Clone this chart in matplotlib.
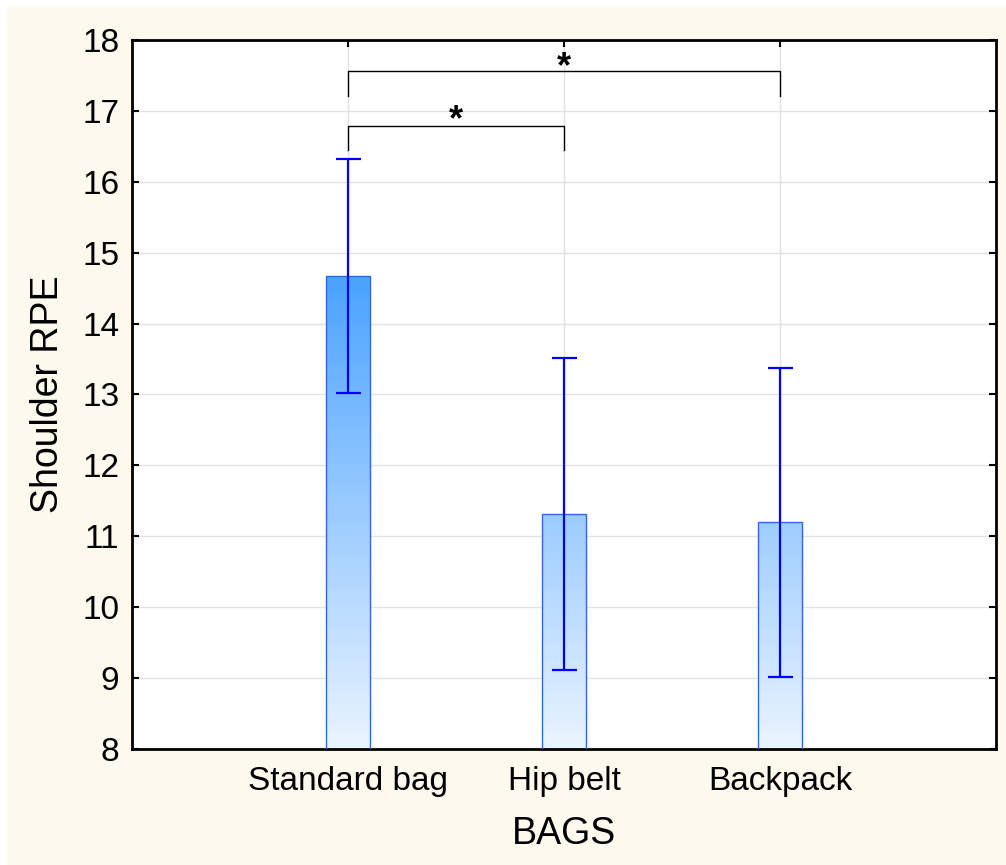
import numpy as np
import matplotlib
matplotlib.use("Agg")
import matplotlib.pyplot as plt
from matplotlib.colors import LinearSegmentedColormap
from matplotlib.patches import Rectangle

# Shoulder RPE by bag type: means with error bars
bags = ["Standard bag", "Hip belt", "Backpack"]
rpe_mean = [14.67, 11.31, 11.20]
rpe_err = [1.65, 2.20, 2.18]

# significance brackets: (from bag, to bag, bar height, leg bottom, star height)
brackets = [(0, 1, 16.79, 16.45, 16.86), (0, 2, 17.56, 17.21, 17.61)]
bracket_label = "*"

y_ticks = list(range(8, 19))

plt.rcParams["font.family"] = ["Liberation Sans", "DejaVu Sans"]

fig = plt.figure(figsize=(10.06, 8.65), dpi=100, facecolor="white")
fig.patches.append(Rectangle((7 / 1006, 0), 1, 1 - 7 / 865,
                             transform=fig.transFigure, facecolor="#fdf9ef",
                             edgecolor="none", zorder=-10))

ax = fig.add_axes([0.1312, 0.1341, 0.859, 0.8197])
ax.set_facecolor("white")

x = np.arange(1, len(bags) + 1)
bars = ax.bar(x, rpe_mean, width=0.2, color="none", edgecolor="#2a6ae0",
              linewidth=1.0, zorder=3)

# vertical colour fade, darker with height, clipped to each bar
cmap = LinearSegmentedColormap.from_list("fade", ["#eaf4ff", "#4aa3ff"])
grad = np.linspace(8, 18, 400).reshape(-1, 1)
for b in bars:
    im = ax.imshow(grad, extent=[0, 4, 8, 18], origin="lower", aspect="auto",
                   cmap=cmap, vmin=8, vmax=14.67, zorder=2)
    im.set_clip_path(b)

ax.errorbar(x, rpe_mean, yerr=rpe_err, fmt="none", ecolor="#0000ff",
            elinewidth=1.6, capsize=9, capthick=1.6, zorder=4)

for i, j, top, leg, star_y in brackets:
    xi, xj = x[i], x[j]
    ax.plot([xi, xi, xj, xj], [leg, top, top, leg], color="black",
            linewidth=1.0, zorder=5)
    ax.text((xi + xj) / 2, star_y, bracket_label, ha="center",
            va="center", fontsize=26, fontweight="bold", zorder=5)

ax.set_xlim(0, 4)
ax.set_ylim(8, 18)
ax.set_xticks(x)
ax.set_xticklabels(bags)
ax.set_yticks(y_ticks)
ax.grid(True, color="#e2e2e2", linewidth=1.0, zorder=0)
ax.set_axisbelow(True)
ax.tick_params(direction="in", length=5, width=1.5, top=True, right=True,
               labelsize=24, colors="black")
ax.tick_params(axis="x", pad=12)
ax.tick_params(axis="y", pad=9)
for s in ax.spines.values():
    s.set_linewidth(2.0)
    s.set_color("black")

ax.set_xlabel("BAGS", fontsize=27, labelpad=14)
ax.set_ylabel("Shoulder RPE", fontsize=27, labelpad=12)

fig.savefig("out.png", dpi=100, facecolor=fig.get_facecolor())
